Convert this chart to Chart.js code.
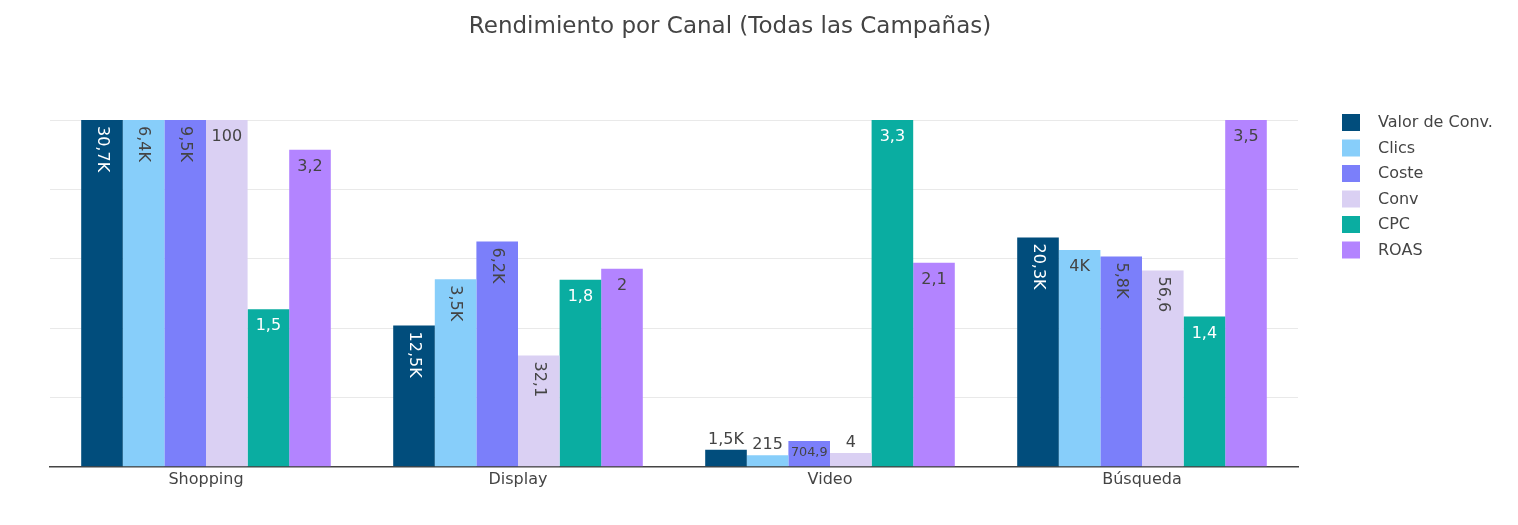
<!DOCTYPE html>
<html lang="es">
<head>
<meta charset="utf-8">
<title>Rendimiento por Canal</title>
<script src="https://cdn.jsdelivr.net/npm/chart.js@4.4.1/dist/chart.umd.min.js"></script>
<style>
  html, body { margin: 0; padding: 0; background: #fff; }
  #chart { display: block; }
</style>
</head>
<body>
<canvas id="chart" width="1518" height="525"></canvas>
<script>
const categories = ['Shopping', 'Display', 'Video', 'Búsqueda'];

const valorConv = [30700, 12500, 1500, 20300];
const clics = [6400, 3460, 215, 4000];
const coste = [9500, 6170, 704.9, 5760];
const conv = [100, 32.1, 4, 56.6];
const cpc = [1.5, 1.78, 3.3, 1.43];
const roas = [3.2, 2, 2.06, 3.5];

const seriesNames = ['Valor de Conv.', 'Clics', 'Coste', 'Conv', 'CPC', 'ROAS'];
const seriesValues = [valorConv, clics, coste, conv, cpc, roas];
const seriesColors = ['#014d7c', '#87cefa', '#7b7ffa', '#dad0f3', '#0aada1', '#b384ff'];
const insideTextColors = ['#ffffff', '#444444', '#444444', '#444444', '#ffffff', '#444444'];

const FONT = '"DejaVu Sans", Verdana, sans-serif';

// labels like 30,7K / 704,9 / 100
function fmt(v) {
    let s;
    if (v >= 1000) {
        s = (Math.round(v / 100) / 10) + 'K';
    } else {
        s = String(Math.round(v * 10) / 10);
    }
    return s.replace('.', ',');
}

const barLabels = {
    id: 'barLabels',
    afterDatasetsDraw(chart) {
        const ctx = chart.ctx;
        const pad = 4;
        const size = 16;
        chart.data.datasets.forEach((ds, i) => {
            const meta = chart.getDatasetMeta(i);
            meta.data.forEach((bar, j) => {
                const text = fmt(seriesValues[i][j]);
                ctx.save();
                ctx.font = size + 'px ' + FONT;
                const tw = ctx.measureText(text).width;
                const th = size;
                const bw = bar.width - 2 * pad;
                const bh = bar.base - bar.y - 2 * pad;
                ctx.textAlign = 'center';
                ctx.textBaseline = 'alphabetic';
                if (tw <= bw && th <= bh) {
                    ctx.fillStyle = insideTextColors[i];
                    ctx.fillText(text, bar.x, bar.y + 21);
                } else if (tw <= bh && th <= bw) {
                    ctx.fillStyle = insideTextColors[i];
                    ctx.translate(bar.x, bar.y + 6);
                    ctx.rotate(Math.PI / 2);
                    ctx.textAlign = 'left';
                    ctx.textBaseline = 'middle';
                    ctx.fillText(text, 0, 0);
                } else if (bh >= th * bw / tw) {
                    // shrink the text so it fits inside
                    const scale = Math.min((bw + 3) / tw, (bh + 2) / th);
                    const small = size * scale;
                    ctx.font = small.toFixed(1) + 'px ' + FONT;
                    ctx.fillStyle = insideTextColors[i];
                    ctx.fillText(text, bar.x, bar.y + 3 + small * 0.95);
                } else {
                    ctx.fillStyle = '#444444';
                    ctx.fillText(text, bar.x, bar.y - 6);
                }
                ctx.restore();
            });
        });
    },
    afterDraw(chart) {
        const ctx = chart.ctx;
        ctx.save();
        // title
        ctx.fillStyle = '#444444';
        ctx.font = '23px ' + FONT;
        ctx.textAlign = 'center';
        ctx.textBaseline = 'middle';
        ctx.fillText('Rendimiento por Canal (Todas las Campañas)', 730, 27);

        // legend
        ctx.font = '16px ' + FONT;
        ctx.textAlign = 'left';
        seriesNames.forEach((name, i) => {
            const y = 114 + i * 25.5;
            ctx.fillStyle = seriesColors[i];
            ctx.fillRect(1342, y, 18, 17);
            ctx.fillStyle = '#444444';
            ctx.fillText(name, 1378, y + 9);
        });
        ctx.restore();
    }
};

const datasets = seriesNames.map((name, i) => {
    const max = Math.max(...seriesValues[i]);
    return {
        label: name,
        data: seriesValues[i].map(v => v / max),
        backgroundColor: seriesColors[i],
        borderWidth: 0,
        categoryPercentage: 0.8,
        barPercentage: 1.0
    };
});

Chart.defaults.font.family = FONT;
Chart.defaults.color = '#444444';

new Chart(document.getElementById('chart'), {
    type: 'bar',
    data: {
        labels: categories,
        datasets: datasets
    },
    options: {
        responsive: false,
        animation: false,
        layout: {
            padding: { left: 50, right: 220, top: 120, bottom: 33 }
        },
        plugins: {
            legend: { display: false },
            tooltip: { enabled: false }
        },
        scales: {
            x: {
                grid: { display: false, drawTicks: false },
                border: { display: true, color: '#444444', width: 1.5 },
                ticks: { font: { size: 16 }, color: '#444444', padding: 3 }
            },
            y: {
                min: 0,
                max: 1,
                ticks: { display: false, stepSize: 0.2 },
                grid: { color: '#e9e9e9', drawTicks: false },
                border: { display: false }
            }
        }
    },
    plugins: [barLabels]
});
</script>
</body>
</html>
